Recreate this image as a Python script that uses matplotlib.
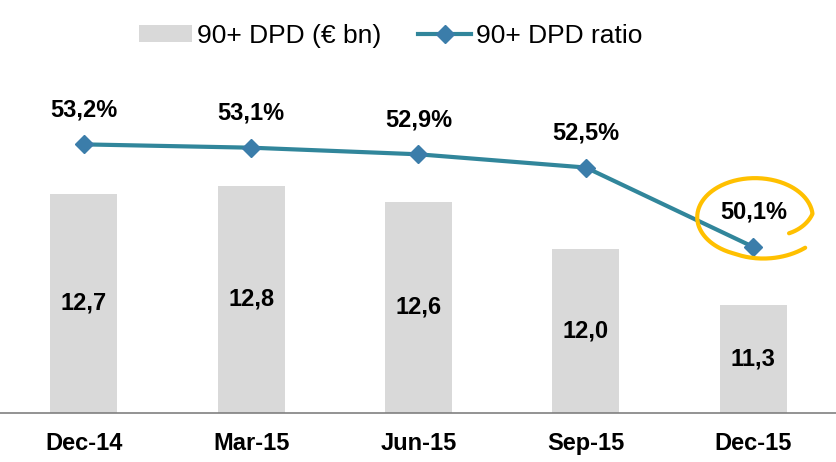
import numpy as np
import matplotlib
matplotlib.use("Agg")
import matplotlib.pyplot as plt
from matplotlib.patches import Patch
from matplotlib.lines import Line2D

plt.rcParams['font.family'] = ['Liberation Sans', 'DejaVu Sans']

quarters = ['Dec-14', 'Mar-15', 'Jun-15', 'Sep-15', 'Dec-15']
dpd_bn = [12.7, 12.8, 12.6, 12.0, 11.3]
dpd_ratio = [53.2, 53.1, 52.9, 52.5, 50.1]

bar_color = '#D9D9D9'
line_color = '#31869B'
marker_color = '#3B7DAA'
ring_color = '#FFC000'

fig = plt.figure(figsize=(8.37, 4.62), dpi=100)
ax = fig.add_axes([0.0, 0.1067, 1.0, 0.7634])
x = np.arange(len(quarters))

# bars (left scale, truncated)
bar_min, bar_max = 9.94, 14.39
ax.bar(x, [v - bar_min for v in dpd_bn], bottom=bar_min, width=0.40, color=bar_color)
ax.set_ylim(bar_min, bar_max)
ax.set_xlim(-0.5, len(quarters) - 0.5)
for xi, v in zip(x, dpd_bn):
    ax.text(xi, (bar_min + v) / 2, f'{v:.1f}'.replace('.', ','), ha='center', va='center',
            fontsize=17, fontweight='bold', color='black')

ax.set_xticks(x)
ax.set_xticklabels(quarters, fontsize=17, fontweight='bold')
ax.tick_params(axis='x', length=0, pad=14)
ax.set_yticks([])
for s in ['top', 'left', 'right']:
    ax.spines[s].set_visible(False)
ax.spines['bottom'].set_color('#808080')
ax.spines['bottom'].set_linewidth(1.2)

# ratio line (right scale, hidden)
ax2 = ax.twinx()
ax2.plot(x, dpd_ratio, color=line_color, linewidth=3, marker='D', markersize=9,
         markerfacecolor=marker_color, markeredgecolor=marker_color, zorder=3)
ax2.set_ylim(45.09, 55.75)
ax2.set_yticks([])
for s in ['top', 'left', 'right', 'bottom']:
    ax2.spines[s].set_visible(False)
for xi, v in zip(x, dpd_ratio):
    ax2.annotate(f'{v:.1f}%'.replace('.', ','), (xi, v), xytext=(0, 25), textcoords='offset points',
                 ha='center', va='center', fontsize=17, fontweight='bold')

# hand-drawn ring around the last label
theta = np.radians(np.linspace(-35, 318, 300))
deg = np.degrees(theta)
r = np.interp(deg, [-35, 5, 250, 318], [0.72, 1.0, 1.0, 1.17])
cx, cy = 4.01, 51.0
rx, ry = 0.345, 1.18
ax2.plot(cx + rx * r * np.cos(theta), cy + ry * r * np.sin(theta), color=ring_color,
         linewidth=3, solid_capstyle='round', clip_on=False, zorder=4)

# legend
handles = [Patch(facecolor=bar_color, edgecolor='none'),
           Line2D([], [], color=line_color, linewidth=3, marker='D', markersize=9,
                  markerfacecolor=marker_color, markeredgecolor=marker_color)]
fig.legend(handles, ['90+ DPD (€ bn)', '90+ DPD ratio'], loc='upper center',
           bbox_to_anchor=(0.467, 1.0), ncol=2, frameon=False, fontsize=19,
           handlelength=2.0, handleheight=0.6, handletextpad=0.2, columnspacing=1.4)

fig.savefig('out.png', dpi=100)
